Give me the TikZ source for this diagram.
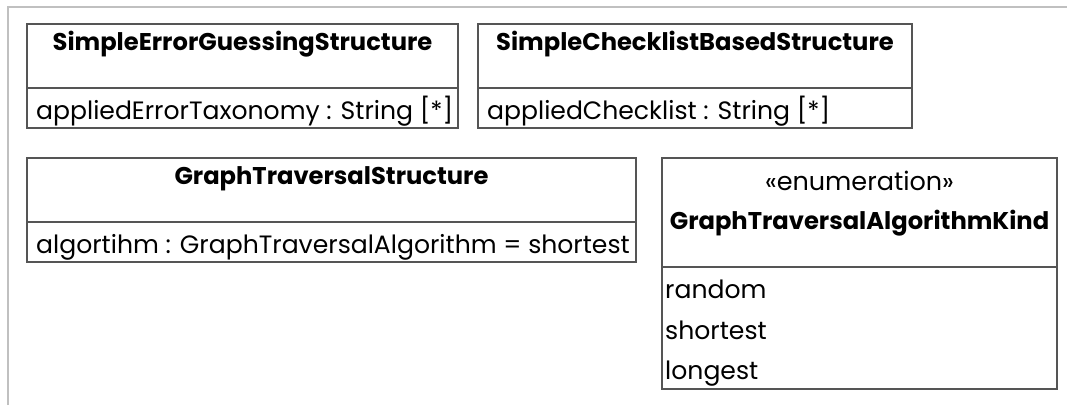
\documentclass[tikz,border=0pt]{standalone}
\usepackage{fontspec}
\setmainfont{Poppins}
\usetikzlibrary{positioning}
\definecolor{frameGray}{HTML}{C0C0C0}
\definecolor{boxGray}{HTML}{555555}

\tikzset{
  compartment/.style={draw=boxGray, line width=1.3pt, anchor=north west, inner sep=0pt, outer sep=0pt},
  classname/.style={font=\fontsize{24.2}{28}\selectfont\bfseries, anchor=base, inner sep=0pt},
  stereotype/.style={font=\fontsize{25.5}{29}\selectfont, anchor=base, inner sep=0pt},
  member/.style={font=\fontsize{25.1}{29}\selectfont, anchor=base west, inner sep=0pt},
}

\begin{document}
\begin{tikzpicture}[x=1pt, y=-1pt]

    \useasboundingbox (0,0) rectangle (1067,405);

    % frame of the diagram
    \draw[frameGray, line width=2pt] (8,405) -- (8,7) -- (1067,7);

    % error guessing
    \node[compartment, minimum width=431pt, minimum height=64pt] (errHead) at (27,24) {};
    \node[compartment, minimum width=431pt, minimum height=40pt] (errBody) at (errHead.south west) {};
    \node[classname] (errName) at ([yshift=-26pt]errHead.north) {SimpleErrorGuessingStructure};
    \node[member] (errAttr) at ([xshift=9pt, yshift=-31pt]errBody.north west) {appliedErrorTaxonomy : String [*]};

    % checklist based
    \node[compartment, minimum width=434pt, minimum height=64pt] (chkHead) at (478,24) {};
    \node[compartment, minimum width=434pt, minimum height=40pt] (chkBody) at (chkHead.south west) {};
    \node[classname] (chkName) at ([yshift=-26pt]chkHead.north) {SimpleChecklistBasedStructure};
    \node[member] (chkAttr) at ([xshift=9pt, yshift=-31pt]chkBody.north west) {appliedChecklist : String [*]};

    % graph traversal
    \node[compartment, minimum width=609pt, minimum height=64pt] (gtHead) at (27,158) {};
    \node[compartment, minimum width=609pt, minimum height=40pt] (gtBody) at (gtHead.south west) {};
    \node[classname] (gtName) at ([yshift=-26pt]gtHead.north) {GraphTraversalStructure};
    \node[member] (gtAttr) at ([xshift=9pt, yshift=-31pt]gtBody.north west) {algortihm : GraphTraversalAlgorithm = shortest};

    % enumeration of algorithms
    \node[compartment, minimum width=395pt, minimum height=109pt] (kindHead) at (662,158) {};
    \node[compartment, minimum width=395pt, minimum height=122pt] (kindBody) at (kindHead.south west) {};
    \node[stereotype] (kindStereo) at ([yshift=-32pt]kindHead.north) {«enumeration»};
    \node[classname] (kindName) at ([yshift=-71pt]kindHead.north) {GraphTraversalAlgorithmKind};
    \node[member] (kindRandom) at ([xshift=3pt, yshift=-31pt]kindBody.north west) {random};
    \node[member] (kindShortest) at ([xshift=3pt, yshift=-72pt]kindBody.north west) {shortest};
    \node[member] (kindLongest) at ([xshift=3pt, yshift=-112pt]kindBody.north west) {longest};

\end{tikzpicture}
\end{document}
